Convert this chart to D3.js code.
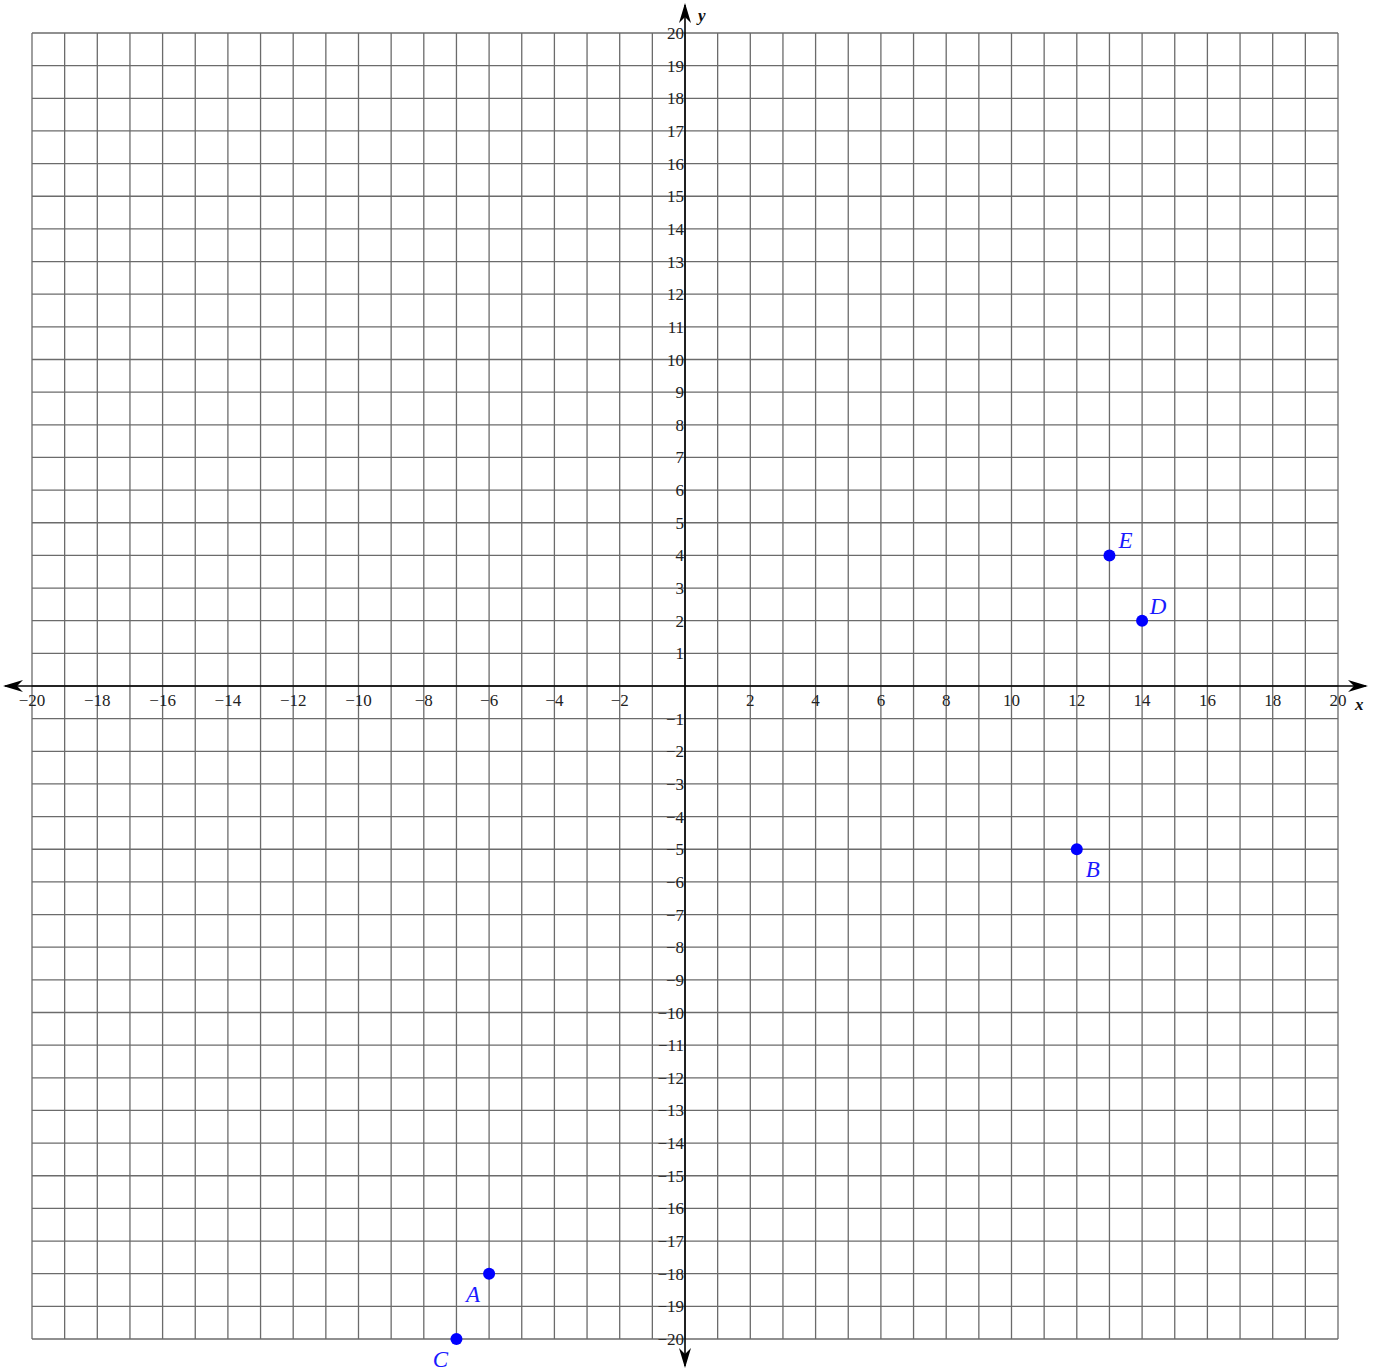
<!DOCTYPE html>
<html>
<head>
<meta charset="utf-8">
<title>Coordinate plane</title>
<script src="https://cdn.jsdelivr.net/npm/d3@7"></script>
<style>
html, body { margin: 0; padding: 0; background: #fff; }
svg { display: block; font-family: "Liberation Serif", "DejaVu Serif", serif; }
</style>
</head>
<body>
<div id="chart"></div>
<script>
// data
const xTicks = d3.range(-20, 21, 2).filter(d => d !== 0);
const yTicks = d3.range(-20, 21, 1).filter(d => d !== 0);
const pointNames = ["A", "B", "C", "D", "E"];
const pointX = [-6, 12, -7, 14, 13];
const pointY = [-18, -5, -20, 2, 4];
// label offset direction per point (left-below, right-below, left-below, right-above, right-above)
const labelSide = ["lb", "rb", "lb", "ra", "ra"];

const W = 1380, H = 1371;
const svg = d3.select("#chart").append("svg").attr("width", W).attr("height", H);

const x = d3.scaleLinear().domain([-20, 20]).range([32, 1338]);
const y = d3.scaleLinear().domain([-20, 20]).range([1339, 33]);

const fmt = d => (d < 0 ? "\u2212" + Math.abs(d) : "" + d);

// grid
const grid = svg.append("g").attr("stroke", "#6b6b6b").attr("stroke-width", 1.3);
grid.selectAll(".gx").data(d3.range(-20, 21)).enter().append("line")
    .attr("x1", d => x(d)).attr("x2", d => x(d))
    .attr("y1", y(20)).attr("y2", y(-20));
grid.selectAll(".gy").data(d3.range(-20, 21)).enter().append("line")
    .attr("y1", d => y(d)).attr("y2", d => y(d))
    .attr("x1", x(-20)).attr("x2", x(20));

// arrow heads
const defs = svg.append("defs");
defs.append("marker").attr("id", "arr")
    .attr("viewBox", "0 0 20 12").attr("refX", 18).attr("refY", 6)
    .attr("markerWidth", 20).attr("markerHeight", 12)
    .attr("markerUnits", "userSpaceOnUse").attr("orient", "auto-start-reverse")
    .append("path").attr("d", "M0,0 L20,6 L0,12 L6,6 Z").attr("fill", "#000");

// axes
svg.append("line")
    .attr("x1", 5).attr("x2", 1366).attr("y1", y(0)).attr("y2", y(0))
    .attr("stroke", "#000").attr("stroke-width", 1.6)
    .attr("marker-start", "url(#arr)").attr("marker-end", "url(#arr)");
svg.append("line")
    .attr("x1", x(0)).attr("x2", x(0)).attr("y1", 5).attr("y2", 1366)
    .attr("stroke", "#000").attr("stroke-width", 1.6)
    .attr("marker-start", "url(#arr)").attr("marker-end", "url(#arr)");

// tick labels
const tickStyle = sel => sel.attr("font-size", 17).attr("fill", "#222");
svg.append("g").selectAll("text").data(xTicks).enter().append("text")
    .attr("x", d => x(d)).attr("y", y(0) + 20)
    .attr("text-anchor", "middle")
    .text(fmt).call(tickStyle);
svg.append("g").selectAll("text").data(yTicks).enter().append("text")
    .attr("x", x(0) - 1).attr("y", d => y(d) + 6)
    .attr("text-anchor", "end")
    .text(fmt).call(tickStyle);

// axis names
svg.append("text").attr("x", 1355).attr("y", y(0) + 24)
    .attr("font-size", 17).attr("font-style", "italic").attr("font-weight", "bold")
    .attr("fill", "#111").text("x");
svg.append("text").attr("x", x(0) + 13).attr("y", 21)
    .attr("font-size", 17).attr("font-style", "italic").attr("font-weight", "bold")
    .attr("fill", "#111").text("y");

// points
const pts = pointNames.map((n, i) => ({ name: n, x: pointX[i], y: pointY[i], side: labelSide[i] }));
const pg = svg.append("g");
pg.selectAll("circle").data(pts).enter().append("circle")
    .attr("cx", d => x(d.x)).attr("cy", d => y(d.y)).attr("r", 6)
    .attr("fill", "#0000ff");
pg.selectAll("text").data(pts).enter().append("text")
    .attr("x", d => x(d.x) + (d.side[0] === "r" ? 16 : -16))
    .attr("y", d => y(d.y) + (d.side[1] === "a" ? -7 : 28))
    .attr("text-anchor", "middle")
    .attr("font-size", 23).attr("font-style", "italic")
    .attr("fill", "#1a1aff").text(d => d.name);
</script>
</body>
</html>
